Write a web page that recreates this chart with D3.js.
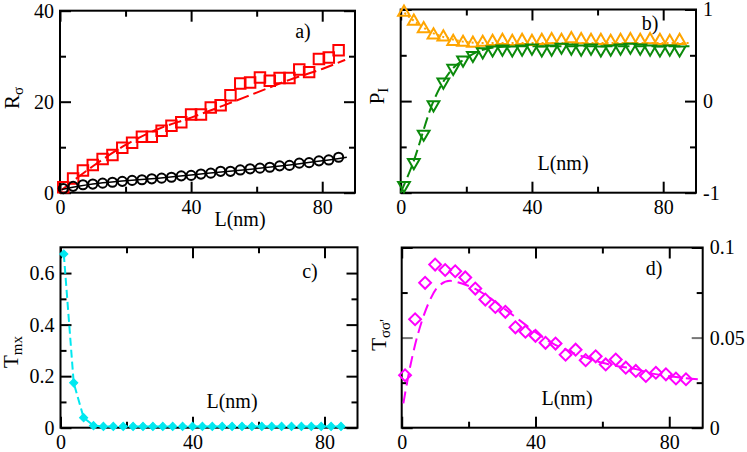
<!DOCTYPE html>
<html>
<head>
<meta charset="utf-8">
<script src="https://cdn.jsdelivr.net/npm/d3@7"></script>
<style>
  body { margin: 0; background: #fff; }
  svg, svg text { font-family: "Liberation Serif", "Times New Roman", "DejaVu Serif", serif; }
</style>
</head>
<body>
<script>
// Four panels a)-d), all against L(nm)

var L = [1, 4, 7, 10, 13, 16, 19, 22, 25, 28, 31, 34, 37, 40, 43, 46, 49, 52, 55, 58, 61, 64, 67, 70, 73, 76, 79, 82, 85];

// a) R_sigma
var redSquares = [1.2, 3.1, 4.9, 6.1, 7.4, 8.3, 9.9, 11.0, 12.3, 12.3, 13.6, 14.7, 15.5, 17.2, 17.2, 18.7, 19.2, 21.4, 24.0, 24.2, 25.3, 24.6, 25.2, 25.2, 27.1, 26.5, 29.4, 29.7, 31.3];
var blackCircles = [0.9, 1.4, 1.75, 1.9, 2.1, 2.3, 2.5, 2.7, 2.85, 3.05, 3.2, 3.4, 3.7, 3.8, 4.1, 4.3, 4.7, 4.7, 5.0, 5.25, 5.4, 5.6, 5.9, 6.0, 6.5, 6.6, 7.0, 7.2, 7.8];
var redFitL = [0.5, 10, 20, 30, 40, 50, 60, 70, 80, 87];
var redFit = [0.6, 5.8, 10.5, 14.0, 16.5, 19.2, 22.0, 24.8, 27.2, 29.2];
var blackFitL = [0.5, 10, 20, 30, 40, 50, 60, 70, 80, 87.5];
var blackFit = [0.7, 1.9, 2.6, 3.2, 3.9, 4.6, 5.3, 6.1, 7.0, 7.8];

// b) P_I
var orangeUp = [0.97, 0.87, 0.79, 0.72, 0.70, 0.65, 0.64, 0.63, 0.64, 0.65, 0.66, 0.65, 0.66, 0.65, 0.66, 0.67, 0.66, 0.68, 0.67, 0.66, 0.66, 0.65, 0.66, 0.67, 0.66, 0.67, 0.66, 0.65, 0.66];
var greenDown = [-0.92, -0.67, -0.36, -0.04, 0.21, 0.36, 0.45, 0.50, 0.54, 0.56, 0.57, 0.56, 0.57, 0.58, 0.56, 0.57, 0.59, 0.58, 0.57, 0.58, 0.56, 0.57, 0.58, 0.59, 0.58, 0.57, 0.56, 0.57, 0.56];
var orangeFitL = [0, 5, 10, 15, 20, 25, 30, 88.5];
var orangeFit = [1.0, 0.85, 0.74, 0.68, 0.645, 0.635, 0.635, 0.635];
var greenFitL = [0, 3.5, 10, 15, 20, 25, 30, 40, 88];
var greenFit = [-1, -0.7, 0.0, 0.32, 0.47, 0.56, 0.59, 0.6, 0.6];

// c) T_mx
var cyanDiamonds = [0.674, 0.174, 0.039, 0.008, 0.005, 0.005, 0.005, 0.005, 0.005, 0.005, 0.005, 0.005, 0.005, 0.005, 0.005, 0.005, 0.005, 0.005, 0.005, 0.005, 0.005, 0.005, 0.005, 0.005, 0.005, 0.005, 0.005, 0.005, 0.005];

// d) T_sigma sigma'
var magentaDiamonds = [0.0291, 0.0602, 0.0804, 0.0905, 0.0875, 0.0868, 0.0834, 0.0772, 0.0711, 0.067, 0.0643, 0.0557, 0.0533, 0.051, 0.0471, 0.0467, 0.0405, 0.0433, 0.0375, 0.0396, 0.0351, 0.0378, 0.0333, 0.0315, 0.0287, 0.0305, 0.0296, 0.0273, 0.0269];
var magentaFitL = [0.5, 2, 4, 6, 8, 11, 14.5, 18, 22, 26, 30, 35, 40, 45, 50, 55, 60, 65, 70, 75, 80, 85, 89.5];
var magentaFit = [0.0135, 0.029, 0.046, 0.059, 0.069, 0.0785, 0.0815, 0.080, 0.077, 0.0725, 0.067, 0.060, 0.053, 0.047, 0.0425, 0.039, 0.036, 0.034, 0.0325, 0.030, 0.0285, 0.0275, 0.0268];

// ticks
var xMajor = [0, 40, 80], xMinor = [20, 60];
var aMajor = [0, 20, 40], aMinor = [10, 30];
var bMajor = [-1, 0, 1], bMinor = [-0.5, 0.5];
var cMajor = [0, 0.2, 0.4, 0.6], cMinor = [0.1, 0.3, 0.5];
var dMajor = [0, 0.05, 0.1], dMinor = [0.025, 0.075];

var serif = '"Liberation Serif", "Times New Roman", "DejaVu Serif", serif';

var svg = d3.select('body').append('svg')
  .attr('width', 747)
  .attr('height', 452)
  .attr('font-family', serif);

var fontSize = 20;

function panel(left, top, right, bottom, yDomain, yMajor, yMinor, labelsRight, majorColor) {
  var w = right - left, h = bottom - top;
  var g = svg.append('g').attr('transform', `translate(${left}, ${top})`);
  var x = d3.scaleLinear().domain([0, 90]).range([0, w]);
  var y = d3.scaleLinear().domain(yDomain).range([h, 0]);
  var fmt = function(d) { return String(d); };

  function addAxis(axis, tx, ty) {
    var a = g.append('g').attr('transform', `translate(${tx}, ${ty})`).call(axis);
    a.attr('font-family', serif);
    a.select('.domain').remove();
    a.selectAll('line').attr('stroke', '#000').attr('stroke-width', 2);
    a.selectAll('text').attr('font-size', fontSize).attr('font-family', serif).attr('fill', '#000');
    return a;
  }

  // x axes, ticks point inward on all four sides
  addAxis(d3.axisBottom(x).tickValues(xMajor).tickFormat(fmt).tickSizeInner(-11).tickSizeOuter(0).tickPadding(7.5), 0, h);
  addAxis(d3.axisBottom(x).tickValues(xMinor).tickFormat('').tickSizeInner(-6).tickSizeOuter(0), 0, h);
  addAxis(d3.axisTop(x).tickValues(xMajor).tickFormat('').tickSizeInner(-11).tickSizeOuter(0), 0, 0);
  addAxis(d3.axisTop(x).tickValues(xMinor).tickFormat('').tickSizeInner(-6).tickSizeOuter(0), 0, 0);

  // y axes
  var leftMajor = d3.axisLeft(y).tickValues(yMajor).tickSizeInner(-11).tickSizeOuter(0).tickPadding(6);
  var rightMajor = d3.axisRight(y).tickValues(yMajor).tickSizeInner(-11).tickSizeOuter(0).tickPadding(7);
  if (labelsRight) { leftMajor.tickFormat(''); rightMajor.tickFormat(fmt); }
  else { leftMajor.tickFormat(fmt); rightMajor.tickFormat(''); }
  var la = addAxis(leftMajor, 0, 0);
  var ra = addAxis(rightMajor, w, 0);
  if (majorColor) {
    [la, ra].forEach(function(a) {
      a.selectAll('line').attr('stroke', function(d) {
        return (d > yDomain[0] && d < yDomain[1]) ? majorColor : '#000';
      });
    });
  }
  addAxis(d3.axisLeft(y).tickValues(yMinor).tickFormat('').tickSizeInner(-6).tickSizeOuter(0), 0, 0);
  addAxis(d3.axisRight(y).tickValues(yMinor).tickFormat('').tickSizeInner(-6).tickSizeOuter(0), w, 0);

  g.append('rect')
    .attr('width', w).attr('height', h)
    .attr('fill', 'none').attr('stroke', '#000').attr('stroke-width', 2);

  return { g: g, x: x, y: y };
}

function fitLine(p, xs, ys, color, dash, width, curve) {
  var line = d3.line()
    .x(function(d, i) { return p.x(xs[i]); })
    .y(function(d) { return p.y(d); })
    .curve(curve || d3.curveMonotoneX);
  p.g.append('path')
    .attr('d', line(ys))
    .attr('fill', 'none')
    .attr('stroke', color)
    .attr('stroke-width', width || 2)
    .attr('stroke-dasharray', dash || null);
}

function markers(p, values, type, size, rotate, color, filled) {
  var sym = d3.symbol().type(type).size(size);
  p.g.selectAll(null)
    .data(values)
    .enter()
    .append('path')
    .attr('d', sym)
    .attr('transform', function(d, i) {
      return `translate(${p.x(L[i])}, ${p.y(d)}) rotate(${rotate})`;
    })
    .attr('fill', filled ? color : 'none')
    .attr('stroke', color)
    .attr('stroke-width', filled ? 1 : 2);
}

function label(x, y, txt, size) {
  svg.append('text')
    .attr('x', x).attr('y', y)
    .attr('text-anchor', 'middle')
    .attr('font-family', serif)
    .attr('font-size', size || fontSize)
    .text(txt);
}

function yTitle(x, y, main, sub) {
  var t = svg.append('text')
    .attr('transform', `translate(${x}, ${y}) rotate(-90)`)
    .attr('text-anchor', 'middle')
    .attr('font-family', serif)
    .attr('font-size', 21);
  t.append('tspan').text(main);
  t.append('tspan').attr('font-size', 15).attr('dy', '0.3em').text(sub);
}

// a)
var pa = panel(60, 10.7, 355, 192.7, [0, 40], aMajor, aMinor, false);
fitLine(pa, redFitL, redFit, '#ff0000', '13,5');
fitLine(pa, blackFitL, blackFit, '#000', null, 1.5);
markers(pa, redSquares, d3.symbolSquare, 110, 0, '#ff0000');
markers(pa, blackCircles, d3.symbolCircle, 66, 0, '#000');

// b)
var pb = panel(400.7, 9.5, 696, 192.7, [-1, 1], bMajor, bMinor, true);
fitLine(pb, orangeFitL, orangeFit, '#ffa500', '2,3');
fitLine(pb, greenFitL, greenFit, '#0b8a0b', '12,5');
markers(pb, orangeUp, d3.symbolTriangle, 60, 0, '#ffa500');
markers(pb, greenDown, d3.symbolTriangle, 60, 180, '#0b8a0b');

// c)
var pc = panel(60.5, 247.3, 357.5, 427.7, [0, 0.7], cMajor, cMinor, false);
fitLine(pc, L, cyanDiamonds, '#00e8f0', '8,4', 2, d3.curveLinear);
markers(pc, cyanDiamonds, d3.symbolSquare, 34, 45, '#00e8f0', true);

// d)
var pd = panel(401.7, 247.5, 702.7, 427.7, [0, 0.1], dMajor, dMinor, true, '#777');
fitLine(pd, magentaFitL, magentaFit, '#ff00ff', '12,6');
markers(pd, magentaDiamonds, d3.symbolSquare, 70, 45, '#ff00ff');

// axis titles
yTitle(18.5, 98, 'R', 'σ');
yTitle(383.5, 96, 'P', 'I');
yTitle(17.5, 352, 'T', 'mx');
yTitle(385.5, 335, 'T', "σσ'");

// L(nm) labels
label(240, 226, 'L(nm)');
label(563, 170, 'L(nm)');
label(232, 408, 'L(nm)');
label(567, 405, 'L(nm)');

// panel letters
label(303, 38, 'a)');
label(650, 30, 'b)');
label(310, 278, 'c)');
label(654, 275, 'd)');
</script>
</body>
</html>
